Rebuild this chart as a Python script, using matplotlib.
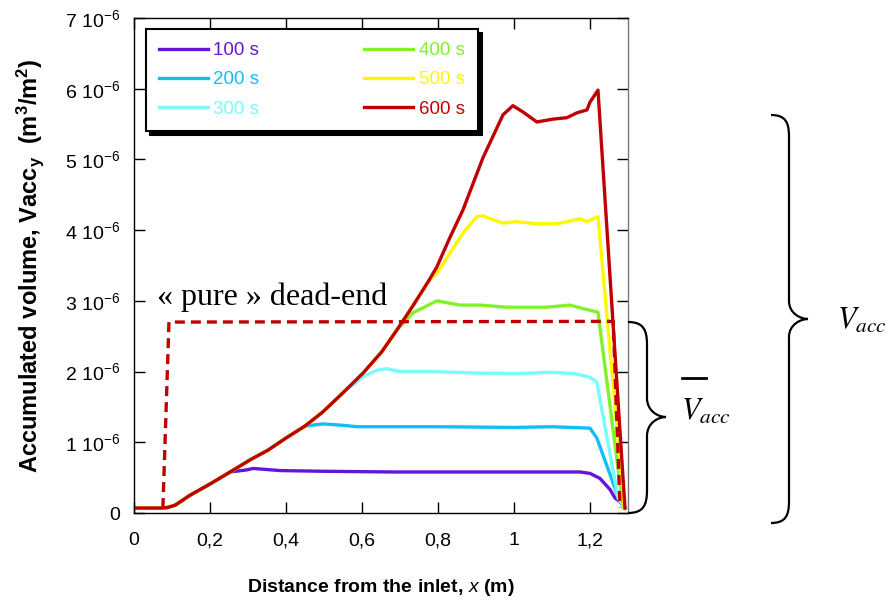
import numpy as np
import matplotlib
matplotlib.use("Agg")
import matplotlib.pyplot as plt
from matplotlib.path import Path
from matplotlib.patches import PathPatch

plt.rcParams['font.family'] = ['Liberation Sans', 'DejaVu Sans']
plt.rcParams['mathtext.fontset'] = 'custom'
plt.rcParams['mathtext.rm'] = 'Liberation Sans'
plt.rcParams['mathtext.it'] = 'Liberation Sans:italic'
plt.rcParams['mathtext.bf'] = 'Liberation Sans:bold'

# values, y in 1e-6 m3/m2
rise_x = [0, 0.076, 0.09, 0.108, 0.125, 0.147, 0.2, 0.253, 0.305, 0.353, 0.4, 0.45, 0.497,
          0.55, 0.603, 0.652, 0.692, 0.734, 0.774, 0.797, 0.83, 0.866, 0.918, 0.971]
rise_y = [0.07, 0.07, 0.08, 0.11, 0.17, 0.25, 0.41, 0.58, 0.75, 0.89, 1.06, 1.23, 1.43,
          1.70, 1.98, 2.28, 2.59, 2.93, 3.27, 3.48, 3.88, 4.29, 5.02, 5.63]

x100 = rise_x[:8] + [0.297, 0.314, 0.384, 0.5, 0.682, 0.9, 1.174, 1.2, 1.226, 1.253, 1.266, 1.279, 1.292]
y100 = rise_y[:8] + [0.61, 0.63, 0.60, 0.59, 0.58, 0.58, 0.58, 0.56, 0.49, 0.33, 0.21, 0.16, 0.07]

x200 = rise_x[:12] + [0.497, 0.55, 0.587, 0.8, 1.0, 1.1, 1.15, 1.2, 1.218, 1.274, 1.292]
y200 = rise_y[:12] + [1.26, 1.24, 1.22, 1.22, 1.21, 1.22, 1.21, 1.20, 1.06, 0.23, 0.07]

x300 = rise_x[:14] + [0.603, 0.64, 0.666, 0.7, 0.779, 0.9, 1.0, 1.1, 1.16, 1.2, 1.218, 1.274, 1.292]
y300 = rise_y[:14] + [1.93, 2.02, 2.04, 2.00, 2.00, 1.98, 1.97, 1.99, 1.97, 1.92, 1.85, 0.21, 0.07]

x400 = rise_x[:17] + [0.734, 0.797, 0.858, 0.911, 0.981, 1.086, 1.147, 1.182, 1.221, 1.287]
y400 = rise_y[:17] + [2.83, 3.00, 2.94, 2.94, 2.91, 2.91, 2.94, 2.89, 2.84, 0.08]

x500 = rise_x[:19] + [0.797, 0.866, 0.902, 0.918, 0.971, 1.007, 1.06, 1.113, 1.174, 1.192, 1.221, 1.29]
y500 = rise_y[:19] + [3.39, 3.96, 4.19, 4.20, 4.10, 4.12, 4.09, 4.09, 4.16, 4.12, 4.19, 0.08]

x600 = rise_x + [0.997, 1.024, 1.06, 1.103, 1.139, 1.166, 1.192, 1.2, 1.221, 1.292]
y600 = rise_y + [5.76, 5.67, 5.53, 5.57, 5.59, 5.66, 5.70, 5.81, 5.98, 0.07]

dead_x = [0.076, 0.092, 1.261, 1.279]
dead_y = [0.07, 2.70, 2.71, 0.08]

labels = ["100 s", "200 s", "300 s", "400 s", "500 s", "600 s"]
colors = ["#6614D6", "#11BFF5", "#77FBFB", "#80F22A", "#FFF700", "#C00000"]

fig = plt.figure(figsize=(8.88, 6.06), dpi=100)
ax = fig.add_axes([134/888, 93/606, 494/888, 495/606])

series = [(x100, y100), (x200, y200), (x300, y300), (x400, y400), (x500, y500), (x600, y600)]
for (xs, ys), lab, c in zip(series, labels, colors):
    ax.plot(xs, ys, color=c, lw=2.4, label=lab, solid_joinstyle='round')

ax.plot(dead_x, dead_y, color="#C00000", lw=2.4, ls=(0, (3, 1.8)))
ax.text(0.06, 2.94, "« pure » dead-end", fontsize=23, family=['Liberation Serif'], va='baseline')

ax.set_xlim(0, 1.3)
ax.set_ylim(0, 7)
ax.set_xticks([0, 0.2, 0.4, 0.6, 0.8, 1.0, 1.2])
ax.set_xticklabels(["0", "0,2", "0,4", "0,6", "0,8", "1", "1,2"])
ax.set_yticks(range(8))
ax.set_yticklabels(["0"] + [f"{n} 10$^{{-6}}$" for n in range(1, 8)])
ax.tick_params(direction='in', length=8, width=1, labelsize=14, top=True, right=True)
ax.tick_params(axis='x', pad=14)
ax.tick_params(axis='y', pad=10)
for s in ax.spines.values():
    s.set_linewidth(1)
ax.spines['right'].set_color('#777777')

ax.set_xlabel("Distance from the inlet, $\\mathbf{\\mathit{x}}$ (m)", fontsize=14, fontweight='bold', labelpad=20)
ax.set_ylabel("Accumulated volume, Vacc$_\\mathbf{y}$  (m$^\\mathbf{3}$/m$^\\mathbf{2}$)",
              fontsize=17, fontweight='bold', labelpad=14)

leg = ax.legend(ncol=2, loc='upper left', bbox_to_anchor=(0.024, 0.978), fontsize=13.5,
                labelcolor='linecolor', handlelength=2.6, handletextpad=0.3,
                columnspacing=5.6, labelspacing=0.65, borderpad=0.7, borderaxespad=0,
                fancybox=False, framealpha=1, edgecolor='black',
                shadow={'ox': 3, 'oy': -3, 'color': 'black', 'alpha': 1})
leg.get_frame().set_linewidth(1.5)

# braces, drawn in figure pixel coordinates
ov = fig.add_axes([0, 0, 1, 1], facecolor='none')
ov.set_xlim(0, 888)
ov.set_ylim(606, 0)
ov.axis('off')


def brace(x0, xv, xt, ytop, ybot, ytip):
    r = (xv - x0)
    verts = [(x0, ytop), (x0 + r * 0.8, ytop), (xv, ytop + r * 0.4), (xv, ytop + r * 1.2),
             (xv, ytip - r * 1.0),
             (xv, ytip - r * 0.3), (xt - r * 0.4, ytip), (xt, ytip),
             (xt - r * 0.4, ytip), (xv, ytip + r * 0.3), (xv, ytip + r * 1.0),
             (xv, ybot - r * 1.2),
             (xv, ybot - r * 0.4), (x0 + r * 0.8, ybot), (x0, ybot)]
    codes = [Path.MOVETO, Path.CURVE4, Path.CURVE4, Path.CURVE4,
             Path.LINETO,
             Path.CURVE4, Path.CURVE4, Path.CURVE4,
             Path.CURVE4, Path.CURVE4, Path.CURVE4,
             Path.LINETO,
             Path.CURVE4, Path.CURVE4, Path.CURVE4]
    ov.add_patch(PathPatch(Path(verts, codes), fill=False, lw=1.6, ec='black'))


brace(628, 647, 666, 322, 513, 417)
brace(771, 789, 808, 115, 523, 319)

vfont = dict(fontsize=22, family=['Liberation Serif'])
plt.rcParams['mathtext.fontset'] = 'stix'
ov.text(681, 420, "$V_{acc}$", va='baseline', ha='left', **vfont)
ov.plot([682, 706], [378, 378], color='black', lw=2)
ov.text(837, 329, "$V_{acc}$", va='baseline', ha='left', **vfont)

fig.savefig("out.png", dpi=100)
